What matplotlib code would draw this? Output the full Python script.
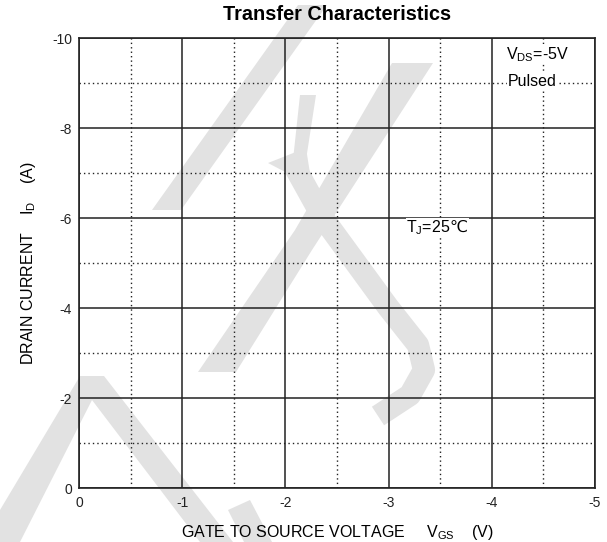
import matplotlib
matplotlib.use("Agg")
import matplotlib.pyplot as plt
from matplotlib.patches import Polygon
from matplotlib.lines import Line2D

# Axis values
x_major = [0, -1, -2, -3, -4, -5]
x_minor = [-0.5, -1.5, -2.5, -3.5, -4.5]
y_major = [0, -2, -4, -6, -8, -10]
y_minor = [-1, -3, -5, -7, -9]
x_labels = ["0", "-1", "-2", "-3", "-4", "-5"]
y_labels = ["0", "-2", "-4", "-6", "-8", "-10"]

title = "Transfer Characteristics"
x_title = r"GATE TO SOURCE VOLTAGE     V$_{\mathregular{GS}}$    (V)"
y_title = r"DRAIN CURRENT    I$_{\mathregular{D}}$    (A)"
note_vds = r"V$_{\mathregular{DS}}$=-5V"
note_pulsed = "Pulsed"
note_tj = r"T$_{\mathregular{J}}$=25$\mathrm{℃}$"

plt.rcParams["font.family"] = ["Liberation Sans", "DejaVu Sans"]
plt.rcParams["axes.unicode_minus"] = False

W, H = 607, 542
fig = plt.figure(figsize=(W / 100, H / 100), dpi=100)


def px(points):
    # figure pixels (from top-left) -> figure fraction
    return [(x / W, 1 - y / H) for x, y in points]


# faint background watermark
wm = "#e2e2e2"
for poly in [
    [(152, 210), (181, 210), (327, 5), (298, 5)],
    [(198, 372), (236, 372), (312, 250), (433, 63), (392, 63), (295, 230)],
    [(300, 95), (316, 95), (306, 160), (293, 160)],
    [(268, 163), (306, 148), (312, 186)],
    [(0, 510), (80, 376), (104, 376), (233, 542), (200, 542),
     (92, 400), (20, 542), (0, 542)],
    [(228, 510), (250, 500), (272, 542), (244, 542)],
]:
    fig.add_artist(Polygon(px(poly), closed=True, facecolor=wm,
                           edgecolor="none", transform=fig.transFigure,
                           zorder=0))
curve = px([(292, 162), (323, 218), (388, 307), (418, 345), (424, 370),
            (410, 395), (378, 416)])
fig.add_artist(Line2D([p[0] for p in curve], [p[1] for p in curve],
                      color=wm, lw=16, solid_capstyle="butt",
                      solid_joinstyle="round", transform=fig.transFigure,
                      zorder=0))

ax = fig.add_axes([79 / W, 1 - 488 / H, (595 - 79) / W, (488 - 38) / H])
ax.set_facecolor("none")
ax.set_zorder(1)

ax.set_xlim(0, -5)
ax.set_ylim(0, -10)
ax.set_xticks(x_major)
ax.set_xticklabels(x_labels)
ax.set_yticks(y_major)
ax.set_yticklabels(y_labels)
ax.set_xticks(x_minor, minor=True)
ax.set_yticks(y_minor, minor=True)
ax.tick_params(which="both", length=0, labelsize=10, colors="#222222")
ax.tick_params(axis="x", pad=6)
ax.tick_params(axis="y", pad=5)

ax.grid(which="major", color="#222222", lw=1.1)
ax.grid(which="minor", color="#222222", lw=1.0, linestyle=(0, (1.0, 2.2)))
for s in ax.spines.values():
    s.set_color("#222222")
    s.set_linewidth(1.2)

ax.set_title(title, fontsize=14.3, fontweight="bold", pad=13)
ax.set_xlabel(x_title, fontsize=11.5, labelpad=9)
ax.set_ylabel(y_title, fontsize=11.5, labelpad=10)

box = dict(facecolor="white", edgecolor="none", pad=0.5)
ax.text(-4.14, -9.64, note_vds, fontsize=11.5, va="center", ha="left",
        bbox=box)
ax.text(-4.15, -9.04, note_pulsed, fontsize=11.5, va="center", ha="left",
        bbox=box)
ax.text(-3.17, -5.78, note_tj, fontsize=11.5, va="center", ha="left",
        bbox=box)

fig.savefig("out.png", dpi=100)
